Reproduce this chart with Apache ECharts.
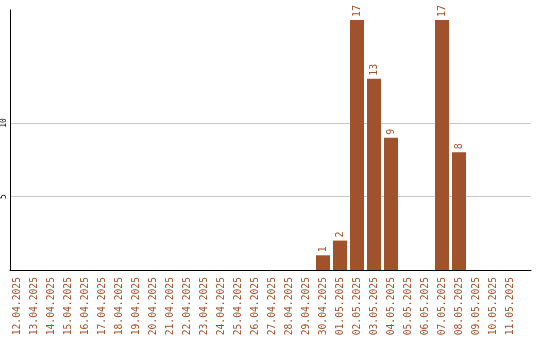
<!DOCTYPE html>
<html><head><meta charset="utf-8">
<script src="https://cdn.jsdelivr.net/npm/echarts@6/dist/echarts.min.js"></script>
<style>html,body{margin:0;padding:0;background:#fff}#c{width:540px;height:340px}</style>
</head><body><div id="c"></div>
<script>
const categories = ['12.04.2025','13.04.2025','14.04.2025','15.04.2025','16.04.2025','17.04.2025','18.04.2025','19.04.2025','20.04.2025','21.04.2025','22.04.2025','23.04.2025','24.04.2025','25.04.2025','26.04.2025','27.04.2025','28.04.2025','29.04.2025','30.04.2025','01.05.2025','02.05.2025','03.05.2025','04.05.2025','05.05.2025','06.05.2025','07.05.2025','08.05.2025','09.05.2025','10.05.2025','11.05.2025'];
const values = [0,0,0,0,0,0,0,0,0,0,0,0,0,0,0,0,0,0,1,2,17,13,9,0,0,17,8,0,0,0];
const yTicks = [5, 10];
const yMax = 17.68;

const color = '#A0522D';
const font = 'DejaVu Sans Mono';
const chart = echarts.init(document.getElementById('c'));
chart.setOption({
  animation: false,
  grid: [
    {left: 10, right: 9, top: 10, bottom: 70},
    {left: 8.5, width: 510, top: 10, bottom: 70}
  ],
  xAxis: [
    {gridIndex: 0, type: 'value', min: 0, max: 1, axisLine: {show: true, lineStyle: {color: '#000', width: 1}}, axisTick: {show: false}, axisLabel: {show: false}, splitLine: {show: false}},
    {gridIndex: 1, type: 'category', data: categories, axisLine: {show: false}, axisTick: {show: false},
     axisLabel: {interval: 0, rotate: 90, margin: 7, color: color, fontFamily: font, fontSize: 9.7}}
  ],
  yAxis: [
    {gridIndex: 0, type: 'value', min: 0, max: yMax, interval: 5,
     axisLine: {show: true, lineStyle: {color: '#000', width: 1}}, axisTick: {show: false},
     axisLabel: {rotate: 90, margin: 2, color: '#000', fontFamily: font, fontSize: 8,
       formatter: v => yTicks.includes(v) ? String(v) : ''},
     splitLine: {show: true, lineStyle: {color: ['transparent','#c8c8c8','#c8c8c8','transparent','transparent'], width: 1}}},
    {gridIndex: 1, type: 'value', min: 0, max: yMax, show: false, splitLine: {show: false}}
  ],
  series: [{
    type: 'bar', xAxisIndex: 1, yAxisIndex: 1, data: values, barWidth: 14,
    itemStyle: {color: color},
    label: {show: true, position: 'top', rotate: 90, align: 'left', verticalAlign: 'middle', distance: 3,
      color: color, fontFamily: font, fontSize: 10, formatter: p => p.value ? String(p.value) : ''}
  }]
});
</script></body></html>
